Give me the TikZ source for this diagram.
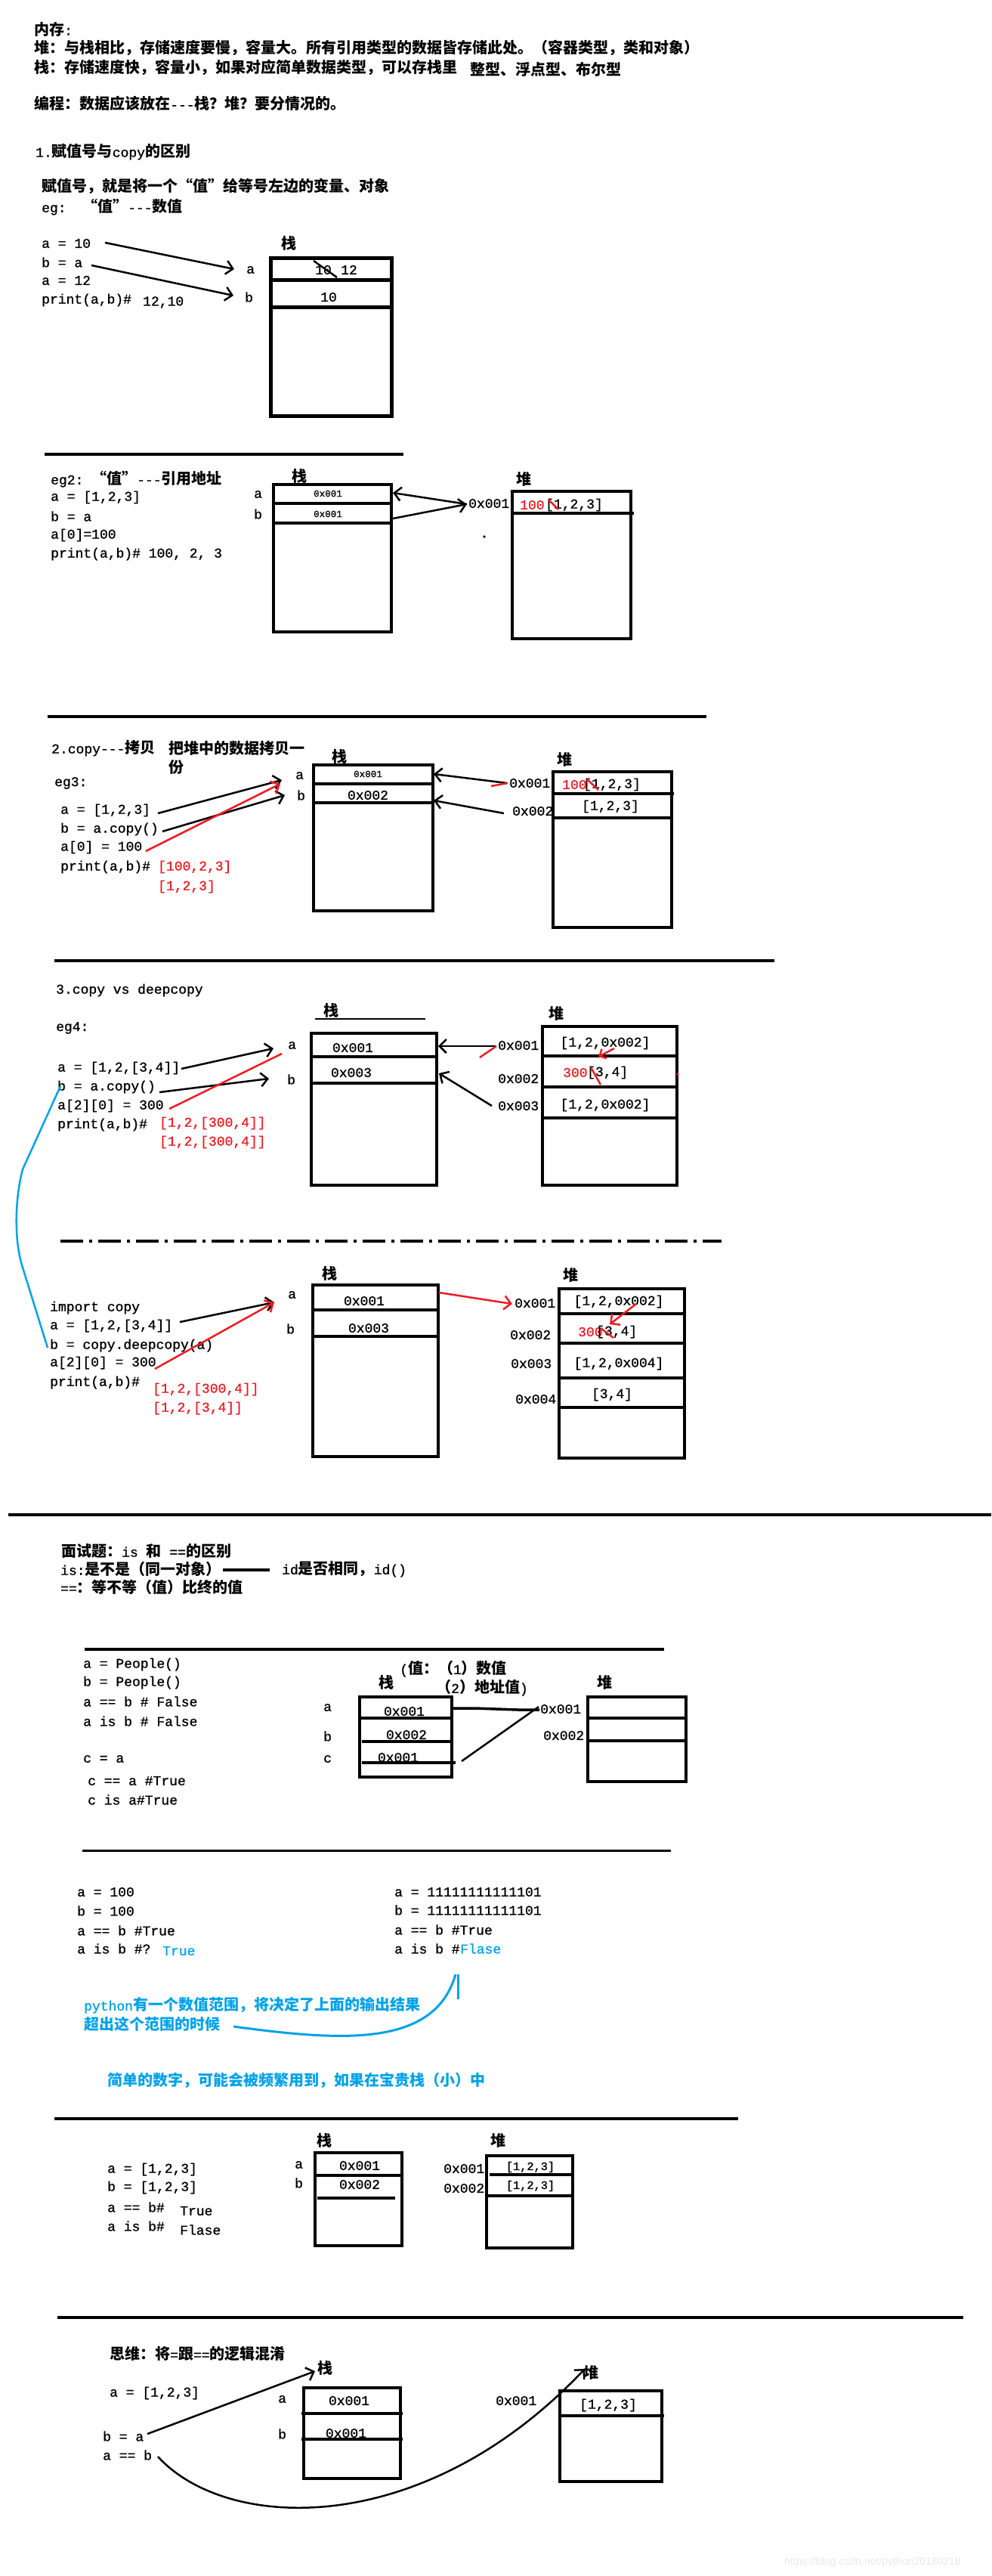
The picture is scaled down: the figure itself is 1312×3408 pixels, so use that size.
\documentclass[tikz,border=0pt]{standalone}
\usepackage{fontspec}
\usetikzlibrary{arrows.meta}
\setmonofont[Scale=0.9,FakeBold=1]{Liberation Mono}
\newfontfamily\cjkf{Noto Sans CJK SC}
\newfontfamily\wmfont{Liberation Sans}
\newcommand\cjkon{\cjkf\bfseries}
\newcommand\cjkoff{\ttfamily\mdseries}
\XeTeXinterchartokenstate=1
\chardef\CJKcls=7
\newcount\cjkcnt
\def\setcjkrange#1#2#3{\cjkcnt=#1\relax
  \loop\XeTeXcharclass\cjkcnt=#3\relax
  \ifnum\cjkcnt<#2\relax\advance\cjkcnt by 1\relax\repeat}
\setcjkrange{"0021}{"007E}{0}
\setcjkrange{"3000}{"303F}{\CJKcls}
\setcjkrange{"4E00}{"9FFF}{\CJKcls}
\setcjkrange{"FF00}{"FFEF}{\CJKcls}
\XeTeXcharclass"201C=\CJKcls
\XeTeXcharclass"201D=\CJKcls
\XeTeXinterchartoks 0 \CJKcls={\cjkon}
\XeTeXinterchartoks 4095 \CJKcls={\cjkon}
\XeTeXinterchartoks \CJKcls 0={\cjkoff}
\XeTeXinterchartoks \CJKcls 4095={\cjkoff}
\newcommand\fsz{\fontsize{20}{24}\selectfont\ttfamily}
\newcommand\fsm{\fontsize{14}{16}\selectfont\ttfamily}
\newcommand\fsk{\fontsize{17}{20}\selectfont\ttfamily}
\definecolor{rd}{RGB}{237,28,36}
\definecolor{bl}{RGB}{0,162,232}
\begin{document}
\begin{tikzpicture}[x=1pt,y=-1pt,
  tx/.style={anchor=west,inner sep=0pt,font=\fsz},
  tc/.style={anchor=center,inner sep=0pt,font=\fsz},
  sm/.style={anchor=center,inner sep=0pt,font=\fsm},
  bx/.style={line width=4pt},
  sepline/.style={line width=4pt},
  harrow/.style={line width=2.5pt,-{Straight Barb[length=9pt,width=18pt]}},
  rdline/.style={rd,line width=2.5pt}]
\useasboundingbox (0,0) rectangle (1312,3408);
\fill[white] (0,0) rectangle (1312,3408);

% ---------- top text
\node[tx] (m1) at (45,39) {内存:};
\node[tx] (m2) at (45,63) {堆：与栈相比，存储速度要慢，容量大。所有引用类型的数据皆存储此处。（容器类型，类和对象）};
\node[tx] (m3) at (45,89) {栈：存储速度快，容量小，如果对应简单数据类型，可以存栈里};
\node[tx] (m4) at (622,92) {整型、浮点型、布尔型};
\node[tx] (m5) at (45,137) {编程：数据应该放在---栈？堆？要分情况的。};

% ---------- section 1
\node[tx] (s1h) at (47,201) {1.赋值号与copy的区别};
\node[tx] (s1d) at (55,246) {赋值号，就是将一个“值”给等号左边的变量、对象};
\node[tx] (s1e) at (55,274) {eg:\ \ “值”---数值};
\node[tx] (c1a) at (55,322) {a = 10};
\node[tx] (c1b) at (55,347) {b = a};
\node[tx] (c1c) at (55,371) {a = 12};
\node[tx] (c1d) at (55,397) {print(a,b)\#};
\node[tx] (c1e) at (189,400) {12,10};
\node[tc] (k1) at (382,322) {栈};
\draw[line width=5pt] (358,341) rectangle (518,550);
\draw[line width=5pt] (358,370) -- (518,370);
\draw[line width=5pt] (358,406) -- (518,406);
\node[tx] (l1a) at (326,357) {a};
\node[tx] (l1b) at (324,393) {b};
\node[tc] (v1a) at (428,357) {10};
\node[tc] (v1b) at (462,357) {12};
\node[tc] (v1c) at (435,393) {10};
\draw[line width=2.5pt] (415,345) -- (446,367);
\coordinate (a1s) at (139,321); \coordinate (a1e) at (310,356);
\coordinate (b1s) at (121,351); \coordinate (b1e) at (309,391);
\draw[harrow] (a1s) -- (a1e);
\draw[harrow] (b1s) -- (b1e);

% ---------- eg2
\draw[sepline] (59,601) -- (534,601);
\node[tx] (e2h) at (67,634) {eg2: “值”---引用地址};
\node[tx] (e2a) at (67,658) {a = [1,2,3]};
\node[tx] (e2b) at (67,683) {b = a};
\node[tx] (e2c) at (67,708) {a[0]=100};
\node[tx] (e2d) at (67,733) {print(a,b)\# 100, 2, 3};
\node[tc] (k2) at (396,630) {栈};
\draw[bx] (362,641) rectangle (518,836);
\draw[bx] (362,666) -- (518,666);
\draw[bx] (362,692) -- (518,692);
\node[tx] (l2a) at (336,654) {a};
\node[tx] (l2b) at (336,680) {b};
\node[sm] (v2a) at (434,653) {0x001};
\node[sm] (v2b) at (434,680) {0x001};
\node[tc] (h2) at (693,634) {堆};
\draw[bx] (678,650) rectangle (835,845);
\draw[bx] (678,679) -- (839,679);
\node[tx] (ad2) at (620,666) {0x001};
\node[tx,text=rd] (r2a) at (688,668) {100};
\node[tx] (r2b) at (722,668) {[1,2,3]};
\draw[rdline] (726,661) -- (739,674);
\coordinate (p2h) at (618,667); \coordinate (p2a) at (520,652); \coordinate (p2b) at (520,686);
\draw[harrow] (p2h) -- (p2a);
\draw[harrow] (p2b) -- (p2h);
\fill (641,710) circle (1.8pt);

% ---------- copy
\draw[sepline] (63,948) -- (935,948);
\node[tx] (s2h) at (68,990) {2.copy---拷贝};
\node[tx] (s2i) at (223,990) {把堆中的数据拷贝一};
\node[tx] (s2j) at (223,1015) {份};
\node[tx] (e3h) at (72,1036) {eg3:};
\node[tx] (e3a) at (80,1072) {a = [1,2,3]};
\node[tx] (e3b) at (80,1097) {b = a.copy()};
\node[tx] (e3c) at (80,1121) {a[0] = 100};
\node[tx] (e3d) at (80,1147) {print(a,b)\#};
\node[tx,text=rd] (e3e) at (209,1147) {[100,2,3]};
\node[tx,text=rd] (e3f) at (209,1173) {[1,2,3]};
\node[tx] (l3a) at (391,1026) {a};
\node[tx] (l3b) at (393,1052) {b};
\node[tc] (k3) at (449,1001) {栈};
\draw[bx] (415,1012) rectangle (573,1205);
\draw[bx] (415,1037) -- (573,1037);
\draw[bx] (415,1062) -- (573,1062);
\node[sm] (v3a) at (487,1024) {0x001};
\node[tc] (v3b) at (487,1052) {0x002};
\node[tc] (h3) at (747,1005) {堆};
\draw[bx] (732,1021) rectangle (889,1227);
\draw[bx] (732,1050) -- (892,1050);
\draw[bx] (732,1082) -- (889,1082);
\node[tx,text=rd] (r3a) at (744,1038) {100};
\node[tx] (r3b) at (772,1038) {[1,2,3]};
\draw[rdline] (776,1030) -- (792,1045);
\node[tx] (r3c) at (770,1067) {[1,2,3]};
\node[tx] (ad3a) at (674,1036) {0x001};
\node[tx] (ad3b) at (678,1073) {0x002};
\coordinate (q3a) at (671,1036); \coordinate (q3ae) at (574,1024);
\coordinate (q3b) at (667,1076); \coordinate (q3be) at (574,1059);
\draw[harrow] (q3a) -- (q3ae);
\draw[harrow] (q3b) -- (q3be);
\coordinate (q3r1) at (650,1040); \coordinate (q3r2) at (672,1036);
\draw[rdline] (q3r1) -- (q3r2);
\coordinate (g3a) at (209,1076); \coordinate (g3ae) at (373,1032);
\coordinate (g3b) at (215,1100); \coordinate (g3be) at (377,1052);
\coordinate (g3c) at (193,1126); \coordinate (g3ce) at (371,1037);
\draw[harrow] (g3a) -- (g3ae);
\draw[harrow] (g3b) -- (g3be);
\draw[harrow,rd] (g3c) -- (g3ce);

% ---------- copy vs deepcopy (eg4)
\draw[sepline] (72,1271) -- (1025,1271);
\node[tx] (s3h) at (74,1310) {3.copy vs deepcopy};
\node[tx] (e4h) at (74,1360) {eg4:};
\node[tx] (e4a) at (76,1413) {a = [1,2,[3,4]]};
\node[tx] (e4b) at (76,1438) {b = a.copy()};
\node[tx] (e4c) at (76,1463) {a[2][0] = 300};
\node[tx] (e4d) at (76,1488) {print(a,b)\#};
\node[tx,text=rd] (e4e) at (211,1486) {[1,2,[300,4]]};
\node[tx,text=rd] (e4f) at (211,1511) {[1,2,[300,4]]};
\node[tc] (k4) at (438,1337) {栈};
\draw[line width=1.5pt] (417,1348) -- (563,1348);
\draw[bx] (412,1367) rectangle (578,1568);
\draw[bx] (412,1398) -- (578,1398);
\draw[bx] (412,1433) -- (578,1433);
\node[tc] (v4a) at (467,1386) {0x001};
\node[tc] (v4b) at (465,1419) {0x003};
\node[tx] (l4a) at (381,1383) {a};
\node[tx] (l4b) at (380,1428) {b};
\node[tc] (h4) at (736,1341) {堆};
\draw[bx] (718,1358) rectangle (896,1568);
\draw[bx] (718,1397) -- (896,1397);
\draw[bx] (718,1438) -- (896,1438);
\draw[bx] (718,1479) -- (896,1479);
\node[tc] (r4a) at (801,1380) {[1,2,0x002]};
\node[tx,text=rd] (r4b) at (745,1419) {300};
\node[tx] (r4c) at (777,1419) {[3,4]};
\node[tc] (r4d) at (801,1462) {[1,2,0x002]};
\draw[rdline] (782,1412) -- (795,1435);
\coordinate (q4r1) at (813,1387); \coordinate (q4r2) at (792,1398);
\draw[rd,line width=2.5pt,-{Straight Barb[length=7pt,width=14pt]}] (q4r1) -- (q4r2);
\fill[rd] (897,1421) circle (1.8pt);
\node[tx] (ad4a) at (659,1383) {0x001};
\node[tx] (ad4b) at (659,1427) {0x002};
\node[tx] (ad4c) at (659,1463) {0x003};
\coordinate (q4a) at (657,1384); \coordinate (q4ae) at (580,1384);
\coordinate (q4c) at (651,1463); \coordinate (q4ce) at (581,1420);
\draw[harrow] (q4a) -- (q4ae);
\draw[harrow] (q4c) -- (q4ce);
\coordinate (q4t1) at (635,1399); \coordinate (q4t2) at (657,1384);
\draw[rdline] (q4t1) -- (q4t2);
\coordinate (g4a) at (240,1414); \coordinate (g4ae) at (362,1387);
\coordinate (g4b) at (211,1445); \coordinate (g4be) at (356,1427);
\coordinate (g4c) at (224,1467); \coordinate (g4ce) at (373,1394);
\draw[harrow] (g4a) -- (g4ae);
\draw[harrow] (g4b) -- (g4be);
\draw[rdline] (g4c) -- (g4ce);
\coordinate (bc1) at (80,1437); \coordinate (bc2) at (63,1783);
\draw[bl,line width=2.5pt] (bc1) -- (30,1547) .. controls (20,1585) and (18,1640) .. (30,1677) -- (bc2);

% ---------- deepcopy
\draw[line width=3.5pt,dash pattern=on 30pt off 8pt on 4pt off 8pt] (80,1642) -- (955,1642);
\node[tx] (e5a) at (66,1730) {import copy};
\node[tx] (e5b) at (66,1754) {a = [1,2,[3,4]]};
\node[tx] (e5c) at (66,1780) {b = copy.deepcopy(a)};
\node[tx] (e5d) at (66,1803) {a[2][0] = 300};
\node[tx] (e5e) at (66,1829) {print(a,b)\#};
\node[tx,text=rd] (e5f) at (202,1838) {[1,2,[300,4]]};
\node[tx,text=rd] (e5g) at (202,1863) {[1,2,[3,4]]};
\node[tx] (l5a) at (381,1713) {a};
\node[tx] (l5b) at (379,1758) {b};
\node[tc] (k5) at (436,1685) {栈};
\draw[bx] (414,1700) rectangle (580,1927);
\draw[bx] (414,1733) -- (580,1733);
\draw[bx] (414,1768) -- (580,1768);
\node[tc] (v5a) at (482,1721) {0x001};
\node[tc] (v5b) at (488,1757) {0x003};
\node[tc] (h5) at (755,1687) {堆};
\draw[bx] (740,1705) rectangle (906,1929);
\draw[bx] (740,1738) -- (906,1738);
\draw[bx] (740,1777) -- (908,1777);
\draw[bx] (738,1823) -- (906,1823);
\draw[bx] (740,1862) -- (906,1862);
\node[tc] (r5a) at (819,1722) {[1,2,0x002]};
\node[tx,text=rd] (r5b) at (765,1762) {300};
\node[tx] (r5c) at (789,1762) {[3,4]};
\node[tc] (r5d) at (819,1804) {[1,2,0x004]};
\node[tc] (r5e) at (810,1845) {[3,4]};
\draw[rdline] (795,1757) -- (812,1770);
\coordinate (q5r1) at (842,1725); \coordinate (q5r2) at (807,1752);
\draw[rd,line width=2.5pt,-{Straight Barb[length=9pt,width=18pt]}] (q5r1) -- (q5r2);
\node[tx] (ad5a) at (681,1724) {0x001};
\node[tx] (ad5b) at (675,1766) {0x002};
\node[tx] (ad5c) at (676,1804) {0x003};
\node[tx] (ad5d) at (682,1851) {0x004};
\coordinate (q5a) at (581,1710); \coordinate (q5ae) at (678,1725);
\draw[harrow,rd] (q5a) -- (q5ae);
\coordinate (g5a) at (238,1749); \coordinate (g5ae) at (363,1723);
\coordinate (g5b) at (205,1811); \coordinate (g5be) at (363,1723);
\draw[harrow] (g5a) -- (g5ae);
\draw[harrow,rd] (g5b) -- (g5be);

% ---------- interview question
\draw[sepline] (11,2004) -- (1312,2004);
\node[tx] (i1) at (81,2052) {面试题：is 和 ==的区别};
\node[tx] (i2) at (80,2076) {is:是不是（同一对象）};
\draw[line width=4pt] (295,2077) -- (357,2077);
\node[tx] (i3) at (373,2076) {id是否相同，id()};
\node[tx] (i4) at (80,2100) {==：等不等（值）比终的值};

% ---------- People
\draw[line width=3.5pt] (112,2182) -- (879,2182);
\node[tx] (p1) at (110,2202) {a = People()};
\node[tx] (p2) at (110,2226) {b = People()};
\node[tx] (p3) at (110,2251) {a == b \# False};
\node[tx] (p4) at (110,2277) {a is b \# False};
\node[tx] (p5) at (110,2327) {c = a};
\node[tx] (p6) at (116,2356) {c == a \#True};
\node[tx] (p7) at (116,2381) {c is a\#True};
\node[tx] (p8) at (529,2208) {(值：（1）数值};
\node[tx] (p9) at (577,2233) {（2）地址值)};
\node[tc] (k6) at (511,2226) {栈};
\node[tc] (h6) at (800,2226) {堆};
\draw[bx] (476,2245) rectangle (598,2351);
\draw[bx] (476,2273) -- (598,2273);
\draw[bx] (479,2304) -- (600,2304);
\draw[bx] (479,2332) -- (603,2332);
\node[tx] (l6a) at (428,2259) {a};
\node[tx] (l6b) at (428,2297) {b};
\node[tx] (l6c) at (428,2327) {c};
\node[tc] (v6a) at (535,2264) {0x001};
\node[tc] (v6b) at (538,2295) {0x002};
\node[tc] (v6c) at (527,2325) {0x001};
\draw[bx] (778,2245) rectangle (908,2357);
\draw[bx] (778,2273) -- (908,2273);
\draw[bx] (778,2303) -- (908,2303);
\node[tx] (ad6a) at (715,2261) {0x001};
\node[tx] (ad6b) at (719,2296) {0x002};
\coordinate (w6a) at (600,2260); \coordinate (w6ae) at (714,2262);
\coordinate (w6c) at (611,2330); \coordinate (w6ce) at (713,2258);
\draw[line width=3.5pt] (w6a) -- (628,2260) -- (686,2262) -- (w6ae);
\draw[line width=2.5pt] (w6c) -- (w6ce);

% ---------- small ints
\draw[line width=3pt] (109,2448) -- (888,2448);
\node[tx] (n1) at (102,2503) {a = 100};
\node[tx] (n2) at (102,2528) {b = 100};
\node[tx] (n3) at (102,2554) {a == b \#True};
\node[tx] (n4) at (102,2578) {a is b \#?};
\node[tx,text=bl] (n5) at (215,2581) {True};
\node[tx] (n6) at (522,2503) {a = 11111111111101};
\node[tx] (n7) at (522,2527) {b = 11111111111101};
\node[tx] (n8) at (522,2553) {a == b \#True};
\node[tx] (n9) at (522,2578) {a is b \#};
\node[tx,text=bl] (n10) at (609,2578) {Flase};
\node[tx,text=bl] (n11) at (111,2653) {python有一个数值范围，将决定了上面的输出结果};
\node[tx,text=bl] (n12) at (111,2678) {超出这个范围的时候};
\node[tx,text=bl] (n13) at (142,2752) {简单的数字，可能会被频繁用到，如果在宝贵栈（小）中};
\coordinate (bv1) at (309,2681); \coordinate (bv2) at (603,2612); \coordinate (bv3) at (606,2645);
\draw[bl,line width=3pt] (bv1) .. controls (450,2700) and (575,2710) .. (bv2);
\draw[bl,line width=3pt] (606,2612) -- (bv3);

% ---------- list compare
\draw[sepline] (72,2803) -- (977,2803);
\node[tx] (o1) at (142,2870) {a = [1,2,3]};
\node[tx] (o2) at (142,2894) {b = [1,2,3]};
\node[tx] (o3) at (142,2920) {a == b\#};
\node[tx] (o4) at (238,2925) {True};
\node[tx] (o5) at (142,2945) {a is b\#};
\node[tx] (o6) at (238,2950) {Flase};
\node[tc] (k7) at (429,2832) {栈};
\node[tc] (h7) at (659,2832) {堆};
\draw[bx] (417,2848) rectangle (532,2971);
\draw[bx] (417,2878) -- (532,2878);
\draw[bx] (420,2908) -- (523,2908);
\node[tx] (l7a) at (390,2864) {a};
\node[tx] (l7b) at (390,2888) {b};
\node[tc] (v7a) at (476,2865) {0x001};
\node[tc] (v7b) at (476,2890) {0x002};
\draw[bx] (644,2852) rectangle (758,2974);
\draw[bx] (648,2877) -- (758,2877);
\draw[bx] (644,2905) -- (760,2905);
\node[anchor=center,inner sep=0pt,font=\fsk] (r7a) at (702,2867) {[1,2,3]};
\node[anchor=center,inner sep=0pt,font=\fsk] (r7b) at (702,2892) {[1,2,3]};
\node[tx] (ad7a) at (587,2869) {0x001};
\node[tx] (ad7b) at (587,2895) {0x002};

% ---------- thinking
\draw[sepline] (76,3066) -- (1275,3066);
\node[tx] (z1) at (145,3114) {思维：将=跟==的逻辑混淆};
\node[tx] (z2) at (145,3166) {a = [1,2,3]};
\node[tx] (z3) at (136,3223) {b = a};
\node[tx] (z4) at (136,3248) {a == b};
\node[tc] (k8) at (430,3133) {栈};
\node[tc] (h8) at (782,3139) {堆};
\draw[bx] (402,3159) rectangle (530,3279);
\draw[bx] (399,3193) -- (533,3193);
\draw[bx] (399,3227) -- (533,3227);
\node[tx] (l8a) at (368,3174) {a};
\node[tx] (l8b) at (368,3220) {b};
\node[tc] (v8a) at (462,3176) {0x001};
\node[tc] (v8b) at (458,3219) {0x001};
\draw[bx] (741,3163) rectangle (876,3283);
\draw[bx] (741,3196) -- (879,3196);
\node[tc] (r8a) at (805,3182) {[1,2,3]};
\node[tx] (ad8) at (656,3176) {0x001};
\coordinate (y8a) at (195,3220); \coordinate (y8ae) at (417,3137);
\draw[harrow] (y8a) -- (y8ae);
\coordinate (y8b) at (209,3250); \coordinate (y8be) at (774,3134);
\draw[harrow] (y8b) .. controls (300,3350) and (560,3360) .. (y8be);

% ---------- watermark
\node[anchor=west,inner sep=0pt,font=\wmfont\fontsize{14}{16}\selectfont,text={rgb,255:red,232;green,232;blue,232}] (wm) at (1038,3390) {https://blog.csdn.net/python20180218};
\end{tikzpicture}
\end{document}
